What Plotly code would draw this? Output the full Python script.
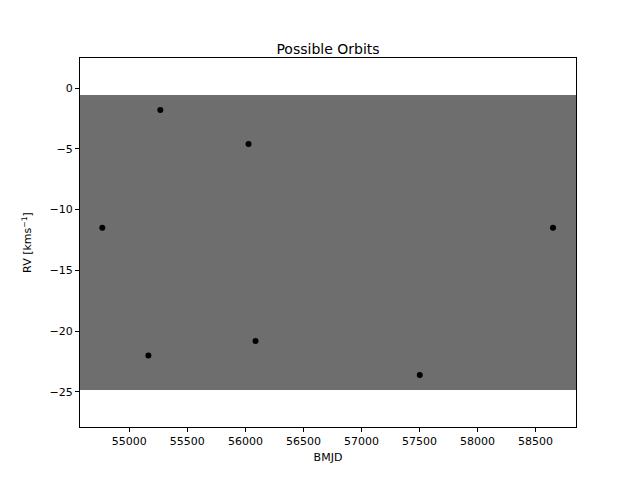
import plotly.graph_objects as go

bmjd = [54767, 55267, 55164, 56027, 56087, 57502, 58650]
rv = [-11.5, -1.8, -22.0, -4.6, -20.8, -23.6, -11.5]

x_range = [54575, 58848]
band_top = -0.58
band_bottom = -24.84

fig = go.Figure()
fig.add_trace(go.Scatter(
    x=[x_range[0], x_range[1], x_range[1], x_range[0], x_range[0]],
    y=[band_top, band_top, band_bottom, band_bottom, band_top],
    fill="toself", fillcolor="#6e6e6e", line=dict(width=0),
    mode="lines", hoverinfo="skip", showlegend=False))
fig.add_trace(go.Scatter(x=bmjd, y=rv, mode="markers",
                         marker=dict(color="black", size=6), showlegend=False))

axis = dict(showgrid=False, zeroline=False, showline=True, mirror=True,
            linecolor="black", linewidth=1, ticks="outside", ticklen=4,
            tickcolor="black", tickfont=dict(size=11, color="black"))
fig.update_layout(
    width=640, height=480,
    margin=dict(l=72, r=72, t=50, b=61),
    paper_bgcolor="white", plot_bgcolor="white",
    font=dict(family="DejaVu Sans", color="black", size=11),
    title=dict(text="Possible Orbits", x=0.5, xanchor="center", y=0.925,
               font=dict(size=14)),
    xaxis=dict(axis, range=x_range, dtick=500, tickformat="d",
               title=dict(text="BMJD", font=dict(size=11), standoff=6)),
    yaxis=dict(axis, range=[-27.88, 2.47], dtick=5,
               title=dict(text="RV [kms<sup>−1</sup>]", font=dict(size=11))),
)
fig.write_html("out.html")
